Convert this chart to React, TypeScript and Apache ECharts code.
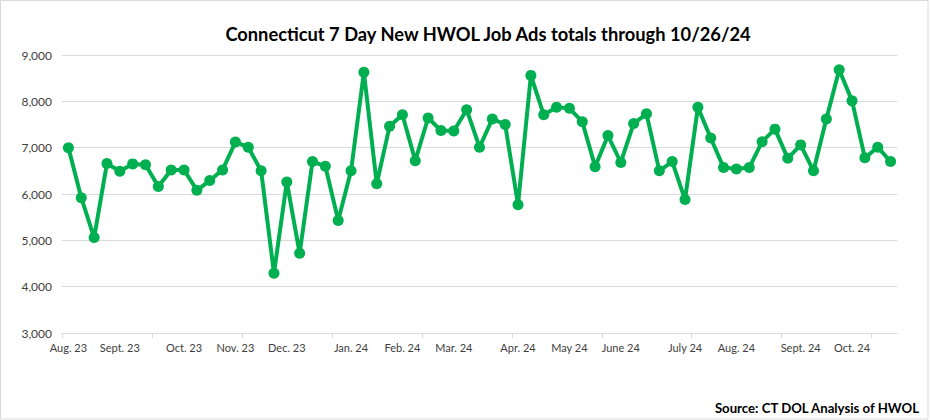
import React, { useEffect, useRef } from "react";
import * as echarts from "echarts";

const weeks: string[] = [
  "8/5/23", "8/12/23", "8/19/23", "8/26/23", "9/2/23", "9/9/23", "9/16/23", "9/23/23", "9/30/23",
  "10/7/23", "10/14/23", "10/21/23", "10/28/23", "11/4/23", "11/11/23", "11/18/23", "11/25/23",
  "12/2/23", "12/9/23", "12/16/23", "12/23/23", "12/30/23",
  "1/6/24", "1/13/24", "1/20/24", "1/27/24", "2/3/24", "2/10/24", "2/17/24", "2/24/24",
  "3/2/24", "3/9/24", "3/16/24", "3/23/24", "3/30/24", "4/6/24", "4/13/24", "4/20/24", "4/27/24",
  "5/4/24", "5/11/24", "5/18/24", "5/25/24", "6/1/24", "6/8/24", "6/15/24", "6/22/24", "6/29/24",
  "7/6/24", "7/13/24", "7/20/24", "7/27/24", "8/3/24", "8/10/24", "8/17/24", "8/24/24", "8/31/24",
  "9/7/24", "9/14/24", "9/21/24", "9/28/24", "10/5/24", "10/12/24", "10/19/24", "10/26/24",
];

const jobAds: number[] = [
  7000, 5920, 5060, 6660, 6490, 6650, 6630, 6160, 6520, 6520,
  6080, 6290, 6520, 7120, 7010, 6500, 4290, 6260, 4720, 6700,
  6600, 5430, 6500, 8630, 6220, 7460, 7710, 6720, 7640, 7370,
  7360, 7820, 7010, 7620, 7500, 5770, 8560, 7710, 7870, 7850,
  7560, 6590, 7260, 6680, 7520, 7730, 6500, 6700, 5880, 7870,
  7210, 6570, 6540, 6570, 7130, 7400, 6770, 7060, 6500, 7620,
  8680, 8010, 6780, 7010, 6700,
];

const monthTickLabels: Record<string, string> = {
  "8/5/23": "Aug. 23",
  "9/2/23": "Sept. 23",
  "10/7/23": "Oct. 23",
  "11/4/23": "Nov. 23",
  "12/2/23": "Dec. 23",
  "1/6/24": "Jan. 24",
  "2/3/24": "Feb. 24",
  "3/2/24": "Mar. 24",
  "4/6/24": "Apr. 24",
  "5/4/24": "May 24",
  "6/1/24": "June 24",
  "7/6/24": "July 24",
  "8/3/24": "Aug. 24",
  "9/7/24": "Sept. 24",
  "10/5/24": "Oct. 24",
};

const tickEvery = 7;
const titleText = "Connecticut 7 Day New HWOL Job Ads totals through 10/26/24";
const sourceText = "Source: CT DOL Analysis of HWOL";

export default function App() {
  const ref = useRef<HTMLDivElement>(null);
  useEffect(() => {
    if (!ref.current) return;
    const chart = echarts.init(ref.current, null, { renderer: "svg" });
    const font = "Lato, 'Open Sans', sans-serif";
    const yMin = 3000;
    const tickData = weeks
      .map((_, i) => i)
      .filter((i) => i % tickEvery === 0)
      .map((i) => [i, yMin]);
    chart.setOption({
      animation: false,
      backgroundColor: "#ffffff",
      textStyle: { fontFamily: font },
      grid: { left: 62, right: 33, top: 55, bottom: 87, containLabel: false },
      xAxis: {
        type: "category",
        data: weeks,
        boundaryGap: true,
        axisLine: { lineStyle: { color: "#d9d9d9", width: 1 } },
        axisTick: { show: false },
        axisLabel: {
          interval: 0,
          color: "#404040",
          fontSize: 11,
          margin: 9,
          formatter: (v: string) => monthTickLabels[v] || "",
        },
        splitLine: { show: false },
      },
      yAxis: {
        type: "value",
        min: yMin,
        max: 9000,
        interval: 1000,
        axisLine: { show: false },
        axisTick: { show: false },
        axisLabel: {
          color: "#404040",
          fontSize: 12,
          margin: 10,
          formatter: (v: number) => v.toLocaleString("en-US"),
        },
        splitLine: { lineStyle: { color: "#d9d9d9", width: 1 } },
      },
      series: [
        {
          type: "custom",
          silent: true,
          data: tickData,
          z: 1,
          renderItem: (params: any, api: any) => {
            const p = api.coord([api.value(0), api.value(1)]);
            const w = api.size([1, 0])[0];
            const x = Math.round(p[0] - w / 2) + 0.5;
            return {
              type: "line",
              shape: { x1: x, y1: p[1], x2: x, y2: p[1] + 5 },
              style: { stroke: "#d9d9d9", lineWidth: 1 },
            };
          },
        },
        {
          type: "line",
          data: jobAds,
          lineStyle: { color: "#00b050", width: 4 },
          itemStyle: { color: "#00b050" },
          symbol: "circle",
          symbolSize: 11,
          showSymbol: true,
          z: 3,
        },
      ],
      graphic: [
        {
          type: "rect",
          shape: { x: 0.5, y: 0.5, width: 927.5, height: 418.5 },
          style: { fill: "none", stroke: "#d9d9d9", lineWidth: 1 },
          silent: true,
        },
        {
          type: "text",
          x: 488,
          y: 34,
          style: {
            text: titleText,
            fontSize: 18.3,
            fontWeight: "bold",
            fill: "#000000",
            fontFamily: font,
            textAlign: "center",
            textVerticalAlign: "middle",
          },
        },
        {
          type: "text",
          x: 919,
          y: 408,
          style: {
            text: sourceText,
            fontSize: 13.2,
            fontWeight: "bold",
            fill: "#000000",
            fontFamily: font,
            textAlign: "right",
            textVerticalAlign: "middle",
          },
        },
      ],
    });
    return () => chart.dispose();
  }, []);
  return (
    <div
      ref={ref}
      style={{ position: "absolute", left: 0, top: 0, width: 930, height: 420 }}
    />
  );
}
